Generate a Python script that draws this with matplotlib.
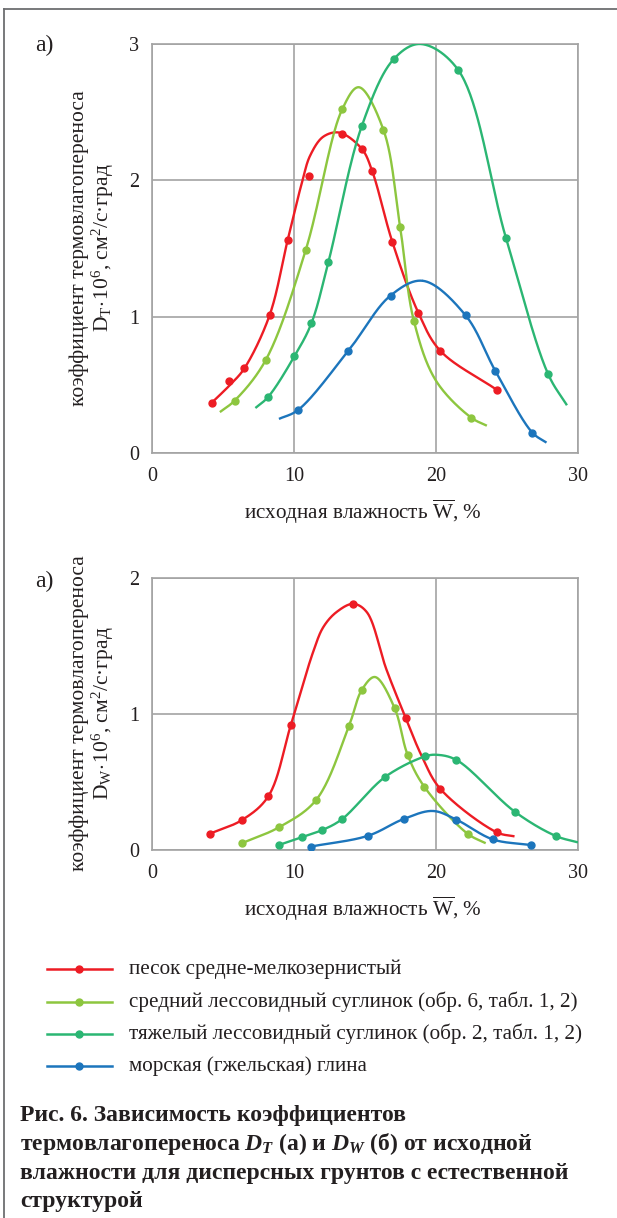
import numpy as np
import matplotlib
matplotlib.use("Agg")
import matplotlib.pyplot as plt
from matplotlib.lines import Line2D

plt.rcParams['font.family'] = ['Liberation Serif', 'DejaVu Serif']
plt.rcParams['mathtext.fontset'] = 'custom'
plt.rcParams['mathtext.rm'] = 'Liberation Serif'
plt.rcParams['mathtext.it'] = 'Liberation Serif:italic:bold'
plt.rcParams['mathtext.bf'] = 'Liberation Serif:bold'

# ---------------- data ----------------
SERIES_NAMES = ["песок средне-мелкозернистый",
                "средний лессовидный суглинок (обр. 6, табл. 1, 2)",
                "тяжелый лессовидный суглинок (обр. 2, табл. 1, 2)",
                "морская (гжельская) глина"]
COLORS = ['#ED1C24', '#8DC63F', '#2BB673', '#1C75BC']

X_TICKS = [0, 10, 20, 30]
TOP_Y_TICKS = [0, 1, 2, 3]
BOT_Y_TICKS = [0, 1, 2]

# ---- top panel (D_T): measured points ----
top_red_x = [4.22, 5.44, 6.5, 8.28, 9.58, 11.08, 13.39, 14.78, 15.47, 16.92, 18.75, 20.3, 24.33]
top_red_y = [0.37, 0.53, 0.62, 1.01, 1.56, 2.03, 2.34, 2.23, 2.07, 1.55, 1.03, 0.75, 0.46]
top_lgreen_x = [5.83, 8.0, 10.83, 13.39, 16.3, 17.47, 18.44, 22.47]
top_lgreen_y = [0.385, 0.68, 1.49, 2.52, 2.37, 1.66, 0.97, 0.26]
top_green_x = [8.17, 10.03, 11.22, 12.42, 14.78, 17.03, 21.56, 24.92, 27.89]
top_green_y = [0.41, 0.71, 0.95, 1.40, 2.40, 2.89, 2.81, 1.58, 0.58]
top_blue_x = [10.28, 13.83, 16.8, 22.08, 24.19, 26.78]
top_blue_y = [0.315, 0.75, 1.155, 1.01, 0.60, 0.15]

# ---- top panel: smoothed curve knots ----
top_red_cx = [4.22, 5.5, 6.5, 8.28, 9.55, 10.6, 11.13, 12.06, 13.2, 14.78, 15.5, 16.92, 18.75, 20.3, 24.33]
top_red_cy = [0.37, 0.50, 0.62, 1.01, 1.56, 2.0, 2.18, 2.32, 2.35, 2.23, 2.07, 1.55, 1.03, 0.75, 0.46]
top_lgreen_cx = [4.78, 5.83, 8.0, 10.83, 13.39, 14.56, 16.3, 17.47, 18.44, 20.0, 22.47, 23.58]
top_lgreen_cy = [0.30, 0.385, 0.68, 1.49, 2.52, 2.683, 2.37, 1.66, 0.97, 0.53, 0.26, 0.20]
top_green_cx = [7.28, 8.17, 10.03, 11.22, 12.42, 14.78, 17.03, 18.9, 21.56, 24.92, 27.89, 29.22]
top_green_cy = [0.33, 0.41, 0.71, 0.95, 1.40, 2.40, 2.89, 3.0, 2.81, 1.58, 0.58, 0.35]
top_blue_cx = [8.94, 10.28, 13.83, 16.8, 19.08, 22.08, 24.19, 26.78, 27.78]
top_blue_cy = [0.25, 0.315, 0.75, 1.155, 1.263, 1.01, 0.60, 0.15, 0.076]

# ---- bottom panel (D_W): measured points ----
bot_red_x = [4.08, 6.33, 8.19, 9.78, 14.17, 17.89, 20.3, 24.28]
bot_red_y = [0.12, 0.22, 0.395, 0.92, 1.81, 0.97, 0.45, 0.13]
bot_lgreen_x = [6.33, 8.94, 11.56, 13.86, 14.78, 17.11, 18.03, 19.19, 22.22]
bot_lgreen_y = [0.05, 0.167, 0.368, 0.914, 1.174, 1.044, 0.699, 0.463, 0.12]
bot_green_x = [8.94, 10.53, 12.0, 13.36, 16.44, 19.25, 21.44, 25.58, 28.44]
bot_green_y = [0.037, 0.093, 0.147, 0.225, 0.539, 0.689, 0.662, 0.279, 0.103]
bot_blue_x = [11.17, 15.22, 17.72, 21.44, 24.0, 26.67]
bot_blue_y = [0.025, 0.105, 0.228, 0.223, 0.078, 0.037]

# ---- bottom panel: smoothed curve knots ----
bot_red_cx = [4.08, 6.33, 8.19, 9.78, 11.36, 12.07, 13.0, 14.17, 15.12, 16.5, 17.85, 19.0, 20.3, 24.28, 25.53]
bot_red_cy = [0.12, 0.22, 0.395, 0.92, 1.46, 1.64, 1.75, 1.81, 1.75, 1.33, 0.975, 0.69, 0.45, 0.13, 0.10]
bot_lgreen_cx = [6.33, 8.94, 11.56, 13.88, 14.78, 15.7, 17.08, 18.0, 19.19, 22.22, 23.5]
bot_lgreen_cy = [0.05, 0.167, 0.368, 0.915, 1.178, 1.272, 1.045, 0.70, 0.463, 0.12, 0.05]
bot_green_cx = [8.94, 10.53, 12.0, 13.36, 16.44, 19.25, 20.06, 21.44, 25.58, 28.44, 30.0]
bot_green_cy = [0.037, 0.093, 0.147, 0.225, 0.539, 0.689, 0.70, 0.662, 0.279, 0.103, 0.056]
bot_blue_cx = [11.17, 15.22, 17.72, 19.78, 21.44, 24.0, 26.67]
bot_blue_cy = [0.025, 0.105, 0.228, 0.287, 0.223, 0.078, 0.037]


def smooth_curve(px, py, sx, sy, n=40):
    """centripetal Catmull-Rom through knots (like a smoothed line)."""
    P = np.column_stack([np.asarray(px, float) * sx, np.asarray(py, float) * sy])
    P = np.vstack([2 * P[0] - P[1], P, 2 * P[-1] - P[-2]])
    out = []
    for i in range(1, len(P) - 2):
        p0, p1, p2, p3 = P[i - 1], P[i], P[i + 1], P[i + 2]
        t0 = 0.0
        t1 = t0 + np.linalg.norm(p1 - p0) ** 0.5
        t2 = t1 + np.linalg.norm(p2 - p1) ** 0.5
        t3 = t2 + np.linalg.norm(p3 - p2) ** 0.5
        t = np.linspace(t1, t2, n)[:, None]
        a1 = (t1 - t) / (t1 - t0) * p0 + (t - t0) / (t1 - t0) * p1
        a2 = (t2 - t) / (t2 - t1) * p1 + (t - t1) / (t2 - t1) * p2
        a3 = (t3 - t) / (t3 - t2) * p2 + (t - t2) / (t3 - t2) * p3
        b1 = (t2 - t) / (t2 - t0) * a1 + (t - t0) / (t2 - t0) * a2
        b2 = (t3 - t) / (t3 - t1) * a2 + (t - t1) / (t3 - t1) * a3
        c = (t2 - t) / (t2 - t1) * b1 + (t - t1) / (t2 - t1) * b2
        out.append(c)
    C = np.vstack(out)
    return C[:, 0] / sx, C[:, 1] / sy


W, H = 617, 1218
fig = plt.figure(figsize=(W / 100, H / 100), dpi=100)


def fx(px):
    return px / W


def fy(py):
    return 1 - py / H


GRID_C = '#A3A3A3'
TXT = '#231F20'


def setup_axes(ax, yticks, ymax):
    ax.set_xlim(0, 30)
    ax.set_ylim(0, ymax)
    ax.set_xticks(X_TICKS)
    ax.set_yticks(yticks)
    ax.tick_params(length=0, labelsize=14.5, colors=TXT)
    ax.tick_params(axis='x', pad=10)
    ax.tick_params(axis='y', pad=9)
    ax.grid(True, color=GRID_C, lw=1.2)
    ax.set_axisbelow(True)
    for s in ax.spines.values():
        s.set_color(GRID_C)
        s.set_linewidth(1.2)


def draw_panel(ax, series, ymax, ax_px_w, ax_px_h):
    sx = ax_px_w / 30.0
    sy = ax_px_h / ymax
    for (mx, my, kx, ky), col in zip(series, COLORS):
        cx, cy = smooth_curve(kx, ky, sx, sy)
        ax.plot(cx, cy, color=col, lw=1.7, solid_capstyle='butt', zorder=3)
        ax.plot(mx, my, 'o', color=col, ms=5, zorder=4)


# top axes
ax1 = fig.add_axes([fx(152), fy(453), fx(426), 409 / H])
setup_axes(ax1, TOP_Y_TICKS, 3)
draw_panel(ax1, [(top_red_x, top_red_y, top_red_cx, top_red_cy),
                 (top_lgreen_x, top_lgreen_y, top_lgreen_cx, top_lgreen_cy),
                 (top_green_x, top_green_y, top_green_cx, top_green_cy),
                 (top_blue_x, top_blue_y, top_blue_cx, top_blue_cy)], 3, 426, 409)

# bottom axes
ax2 = fig.add_axes([fx(152), fy(850), fx(426), 272 / H])
setup_axes(ax2, BOT_Y_TICKS, 2)
draw_panel(ax2, [(bot_red_x, bot_red_y, bot_red_cx, bot_red_cy),
                 (bot_lgreen_x, bot_lgreen_y, bot_lgreen_cx, bot_lgreen_cy),
                 (bot_green_x, bot_green_y, bot_green_cx, bot_green_cy),
                 (bot_blue_x, bot_blue_y, bot_blue_cx, bot_blue_cy)], 2, 426, 272)

# panel letters
fig.text(fx(35), fy(45), 'а)', fontsize=17, va='center', ha='left', color=TXT)
fig.text(fx(35), fy(581), 'а)', fontsize=17, va='center', ha='left', color=TXT)

# y labels
YL1 = 'коэффициент термовлагопереноса'
fig.text(fx(79), fy(248), YL1, rotation=90, fontsize=15.5, va='center', ha='center', color=TXT)
fig.text(fx(103), fy(248), r'$\mathrm{D_T}\!\cdot\!\mathrm{10^6}$, см$^\mathrm{2}$/с·град', rotation=90,
         fontsize=15.5, va='center', ha='center', color=TXT)
fig.text(fx(79), fy(713), YL1, rotation=90, fontsize=15.5, va='center', ha='center', color=TXT)
fig.text(fx(103), fy(713), r'$\mathrm{D_W}\!\cdot\!\mathrm{10^6}$, см$^\mathrm{2}$/с·град', rotation=90,
         fontsize=15.5, va='center', ha='center', color=TXT)

# x labels
xl = r'исходная влажность $\overline{\mathrm{W}}$, %'
fig.text(fx(363), fy(512), xl, fontsize=15.2, va='center', ha='center', color=TXT)
fig.text(fx(363), fy(909), xl, fontsize=15.2, va='center', ha='center', color=TXT)

# legend
leg_y = [969, 1002, 1034, 1066]
for yy, col, name in zip(leg_y, COLORS, SERIES_NAMES):
    fig.add_artist(Line2D([fx(47), fx(112)], [fy(yy), fy(yy)], color=col, lw=1.8,
                          transform=fig.transFigure))
    fig.add_artist(Line2D([fx(79.5)], [fy(yy)], marker='o', ms=5, color=col,
                          transform=fig.transFigure))
    fig.text(fx(129), fy(yy), name, fontsize=15.2, va='center', ha='left', color=TXT)

# caption
cap_lines = ['Рис. 6. Зависимость коэффициентов',
             r'термовлагопереноса $D_T$ (а) и $D_W$ (б) от исходной',
             'влажности для дисперсных грунтов с естественной',
             'структурой']
cap_y = [1115, 1144, 1173, 1202]
for yy, line in zip(cap_y, cap_lines):
    fig.text(fx(20), fy(yy), line, fontsize=17, fontweight='bold', va='center',
             ha='left', color=TXT)

# frame
fig.add_artist(Line2D([fx(4), fx(617)], [fy(9), fy(9)], color='#6D6E71', lw=1.3,
                      transform=fig.transFigure))
fig.add_artist(Line2D([fx(4), fx(4)], [fy(9), fy(1218)], color='#6D6E71', lw=1.3,
                      transform=fig.transFigure))

fig.savefig('out.png', dpi=100)
